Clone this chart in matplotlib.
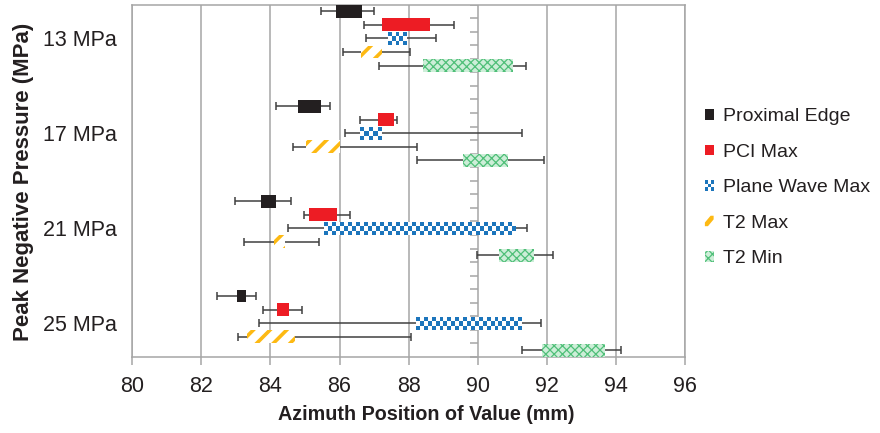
import matplotlib
matplotlib.use('Agg')
import matplotlib.pyplot as plt
import numpy as np
from matplotlib.colors import ListedColormap
from matplotlib.legend_handler import HandlerBase
from matplotlib.markers import TICKLEFT
from matplotlib.patches import Patch, Polygon, Rectangle

plt.rcParams['font.family'] = ['Liberation Sans', 'DejaVu Sans']

groups = ['13 MPa', '17 MPa', '21 MPa', '25 MPa']
series = ['Proximal Edge', 'PCI Max', 'Plane Wave Max', 'T2 Max', 'T2 Min']

# box start / end and whisker start / end per series, one value per pressure group
bar_lo = {
    'Proximal Edge': [85.90, 84.81, 83.73, 83.03],
    'PCI Max': [87.24, 87.12, 85.11, 84.20],
    'Plane Wave Max': [87.39, 86.59, 85.54, 88.21],
    'T2 Max': [86.62, 85.03, 84.09, 83.33],
    'T2 Min': [88.42, 89.58, 90.63, 91.86],
}
bar_hi = {
    'Proximal Edge': [86.64, 85.45, 84.15, 83.28],
    'PCI Max': [88.62, 87.59, 85.93, 84.53],
    'Plane Wave Max': [87.92, 87.20, 91.07, 91.27],
    'T2 Max': [87.23, 86.01, 84.41, 84.72],
    'T2 Min': [91.02, 90.89, 91.64, 93.67],
}
err_lo = {
    'Proximal Edge': [85.47, 84.17, 82.96, 82.44],
    'PCI Max': [86.72, 86.58, 84.96, 83.77],
    'Plane Wave Max': [86.78, 86.17, 84.50, 83.68],
    'T2 Max': [86.09, 84.65, 83.23, 83.06],
    'T2 Min': [87.15, 88.23, 89.97, 91.28],
}
err_hi = {
    'Proximal Edge': [87.00, 85.71, 84.60, 83.58],
    'PCI Max': [89.32, 87.66, 86.31, 84.92],
    'Plane Wave Max': [88.78, 91.28, 91.43, 91.83],
    'T2 Max': [88.04, 88.25, 85.40, 88.06],
    'T2 Min': [91.41, 91.93, 92.19, 94.15],
}

BLUE = '#1c75bc'
ORANGE = '#fdb913'
GRID = '#a6a6a6'
TEXT = '#231f20'

styles = {
    'Proximal Edge': dict(facecolor='#231f20', edgecolor='#231f20', linewidth=0),
    'PCI Max': dict(facecolor='#ed1c24', edgecolor='#ed1c24', linewidth=0),
    'Plane Wave Max': dict(facecolor='white', edgecolor='white', linewidth=0),
    'T2 Max': dict(facecolor='white', edgecolor=ORANGE, hatch='//', linewidth=0),
    'T2 Min': dict(facecolor='#cdeed8', edgecolor='#4fbf78', hatch='xxxx', linewidth=0),
}
hatch_lw = {'T2 Max': 2.6, 'T2 Min': 0.9}


def fill_checker(ax, patch, cell=0.115, rows=3):
    x0, w = patch.get_x(), patch.get_width()
    y0, h = patch.get_y(), patch.get_height()
    ncol = max(1, int(round(w / cell)))
    arr = np.add.outer(np.arange(rows), np.arange(ncol)) % 2
    im = ax.imshow(arr, cmap=ListedColormap([BLUE, 'white']), extent=(x0, x0 + w, y0 + h, y0),
                   aspect='auto', interpolation='nearest', zorder=3.5)
    im.set_clip_path(patch)


class CheckerHandler(HandlerBase):
    def create_artists(self, legend, orig_handle, xdescent, ydescent, width, height, fontsize, trans):
        n = 3
        arts = []
        for i in range(n):
            for j in range(n):
                c = BLUE if (i + j) % 2 == 0 else 'white'
                arts.append(Rectangle((-xdescent + j * width / n, -ydescent + i * height / n),
                                      width / n, height / n, facecolor=c, edgecolor='none', transform=trans))
        return arts


class StripeHandler(HandlerBase):
    def create_artists(self, legend, orig_handle, xdescent, ydescent, width, height, fontsize, trans):
        x0, y0 = -xdescent, -ydescent
        pts = [(x0, y0), (x0 + 0.35 * width, y0), (x0 + width, y0 + 0.65 * height),
               (x0 + width, y0 + height), (x0 + 0.65 * width, y0 + height), (x0, y0 + 0.35 * height)]
        return [Polygon(pts, closed=True, facecolor=ORANGE, edgecolor='none', transform=trans)]


fig = plt.figure(figsize=(8.8, 4.33), dpi=100)
ax = fig.add_axes([0.1503, 0.1755, 0.6281, 0.8141])

group_pos = np.arange(len(groups)) * 7
for k, name in enumerate(series):
    lo, hi = np.array(bar_lo[name]), np.array(bar_hi[name])
    elo, ehi = np.array(err_lo[name]), np.array(err_hi[name])
    y = group_pos + k
    mid = (lo + hi) / 2
    ax.errorbar(mid, y, xerr=[mid - elo, ehi - mid], fmt='none', ecolor='#404040',
                elinewidth=1.1, capsize=3.2, capthick=1.1, zorder=2.5)
    if name in hatch_lw:
        plt.rcParams['hatch.linewidth'] = hatch_lw[name]
    bars = ax.barh(y, hi - lo, left=lo, height=0.95, zorder=3, **styles[name])
    for p in bars:
        if name in hatch_lw and hasattr(p, 'set_hatch_linewidth'):
            p.set_hatch_linewidth(hatch_lw[name])
        if name == 'Plane Wave Max':
            fill_checker(ax, p)

# category axis crossing at x = 90 with ticks between rows
bounds = np.arange(-0.5, group_pos[-1] + 5, 1)
ax.plot(np.full(len(bounds), 90.0), bounds, linestyle='none', marker=TICKLEFT,
        markersize=5.5, markeredgewidth=1.1, color=GRID, zorder=1)

ax.set_xlim(80, 96)
ax.set_ylim(group_pos[-1] + 4.5, -0.5)
ax.set_xticks(np.arange(80, 97, 2))
ax.set_yticks(group_pos + 2)
ax.set_yticklabels(groups)
ax.grid(axis='x', color=GRID, linewidth=1.1)
ax.set_axisbelow(True)
for s in ax.spines.values():
    s.set_color(GRID)
    s.set_linewidth(1.1)
ax.tick_params(axis='x', direction='out', length=5.8, width=1.1, color=GRID,
               labelsize=15.5, labelcolor=TEXT, pad=8)
ax.tick_params(axis='y', length=0, labelsize=15.5, labelcolor=TEXT, pad=11)

fig.text(0.484, 0.0416, 'Azimuth Position of Value (mm)', ha='center', va='center',
         fontsize=14.2, fontweight='bold', color=TEXT)
fig.text(0.027, 0.581, 'Peak Negative Pressure (MPa)', ha='center', va='center',
         rotation=90, fontsize=16, fontweight='bold', color=TEXT)

handles = []
for name in series:
    if name in ('Plane Wave Max', 'T2 Max'):
        handles.append(Rectangle((0, 0), 1, 1))
    else:
        handles.append(Patch(**styles[name]))
leg = fig.legend(handles, series, loc='center left', bbox_to_anchor=(0.801, 0.566),
                 frameon=False, fontsize=14, handlelength=0.45, handleheight=0.45,
                 handletextpad=0.5, labelspacing=0.95, borderpad=0, borderaxespad=0,
                 handler_map={handles[2]: CheckerHandler(), handles[3]: StripeHandler()})
for t in leg.get_texts():
    t.set_color(TEXT)

fig.savefig('out.png', dpi=100)
